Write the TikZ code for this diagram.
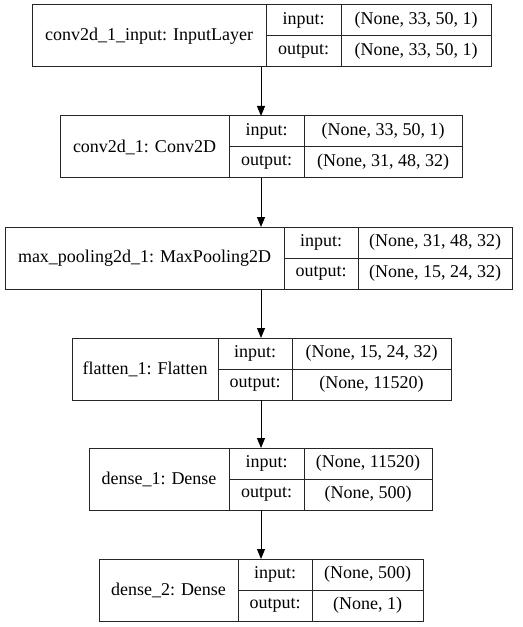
\documentclass[tikz,border=0pt]{standalone}
\usepackage{fontspec}
\setmainfont{Liberation Serif}
\usetikzlibrary{arrows.meta}
\tikzset{
  cell/.style={draw=black!85, line width=0.75pt, inner sep=0pt, outer sep=0pt, rectangle, anchor=north west, font=\fontsize{13.5pt}{16pt}\selectfont, text=black},
  whole/.style={rectangle, inner sep=0pt, outer sep=0pt, anchor=north west},
  arr/.style={draw=black, line width=0.75pt, -{Triangle[length=7.5pt,width=6pt]}}
}
% #1 name, #2 x1, #3 d1, #4 d2, #5 x2, #6 y1, #7 title, #8 in, #9 out
\newcommand\klayer[9]{%
  \node[cell, minimum width={(#3-#2)*0.75pt}, minimum height={62*0.75pt}] (#1t) at (#2,#6) {#7};
  \node[cell, minimum width={(#4-#3)*0.75pt}, minimum height={31*0.75pt}] (#1il) at (#3,#6) {input:};
  \node[cell, minimum width={(#4-#3)*0.75pt}, minimum height={31*0.75pt}] (#1ol) at (#3,{#6+31}) {output:};
  \node[cell, minimum width={(#5-#4)*0.75pt}, minimum height={31*0.75pt}] (#1iv) at (#4,#6) {#8};
  \node[cell, minimum width={(#5-#4)*0.75pt}, minimum height={31*0.75pt}] (#1ov) at (#4,{#6+31}) {#9};
  \node[whole, minimum width={(#5-#2)*0.75pt}, minimum height={62*0.75pt}] (#1) at (#2,#6) {};
}
\begin{document}
\begin{tikzpicture}[x=0.75pt,y=-0.75pt]
\useasboundingbox[fill=white] (0,0) rectangle (523,627);
\klayer{b1}{32}{266}{341}{491}{5}{conv2d\_1\_input: InputLayer}{(None, 33, 50, 1)}{(None, 33, 50, 1)}
\klayer{b2}{60}{229}{304}{462}{116}{conv2d\_1: Conv2D}{(None, 33, 50, 1)}{(None, 31, 48, 32)}
\klayer{b3}{5}{284}{358}{512}{227}{max\_pooling2d\_1: MaxPooling2D}{(None, 31, 48, 32)}{(None, 15, 24, 32)}
\klayer{b4}{72}{218}{292}{451}{338}{flatten\_1: Flatten}{(None, 15, 24, 32)}{(None, 11520)}
\klayer{b5}{89}{229}{304}{432}{448}{dense\_1: Dense}{(None, 11520)}{(None, 500)}
\klayer{b6}{99}{238}{312}{423}{559}{dense\_2: Dense}{(None, 500)}{(None, 1)}
\coordinate (ax) at (261,0);
\draw[arr] (b1.south -| ax) -- (b2.north -| ax);
\draw[arr] (b2.south -| ax) -- (b3.north -| ax);
\draw[arr] (b3.south -| ax) -- (b4.north -| ax);
\draw[arr] (b4.south -| ax) -- (b5.north -| ax);
\draw[arr] (b5.south -| ax) -- (b6.north -| ax);
\end{tikzpicture}
\end{document}
